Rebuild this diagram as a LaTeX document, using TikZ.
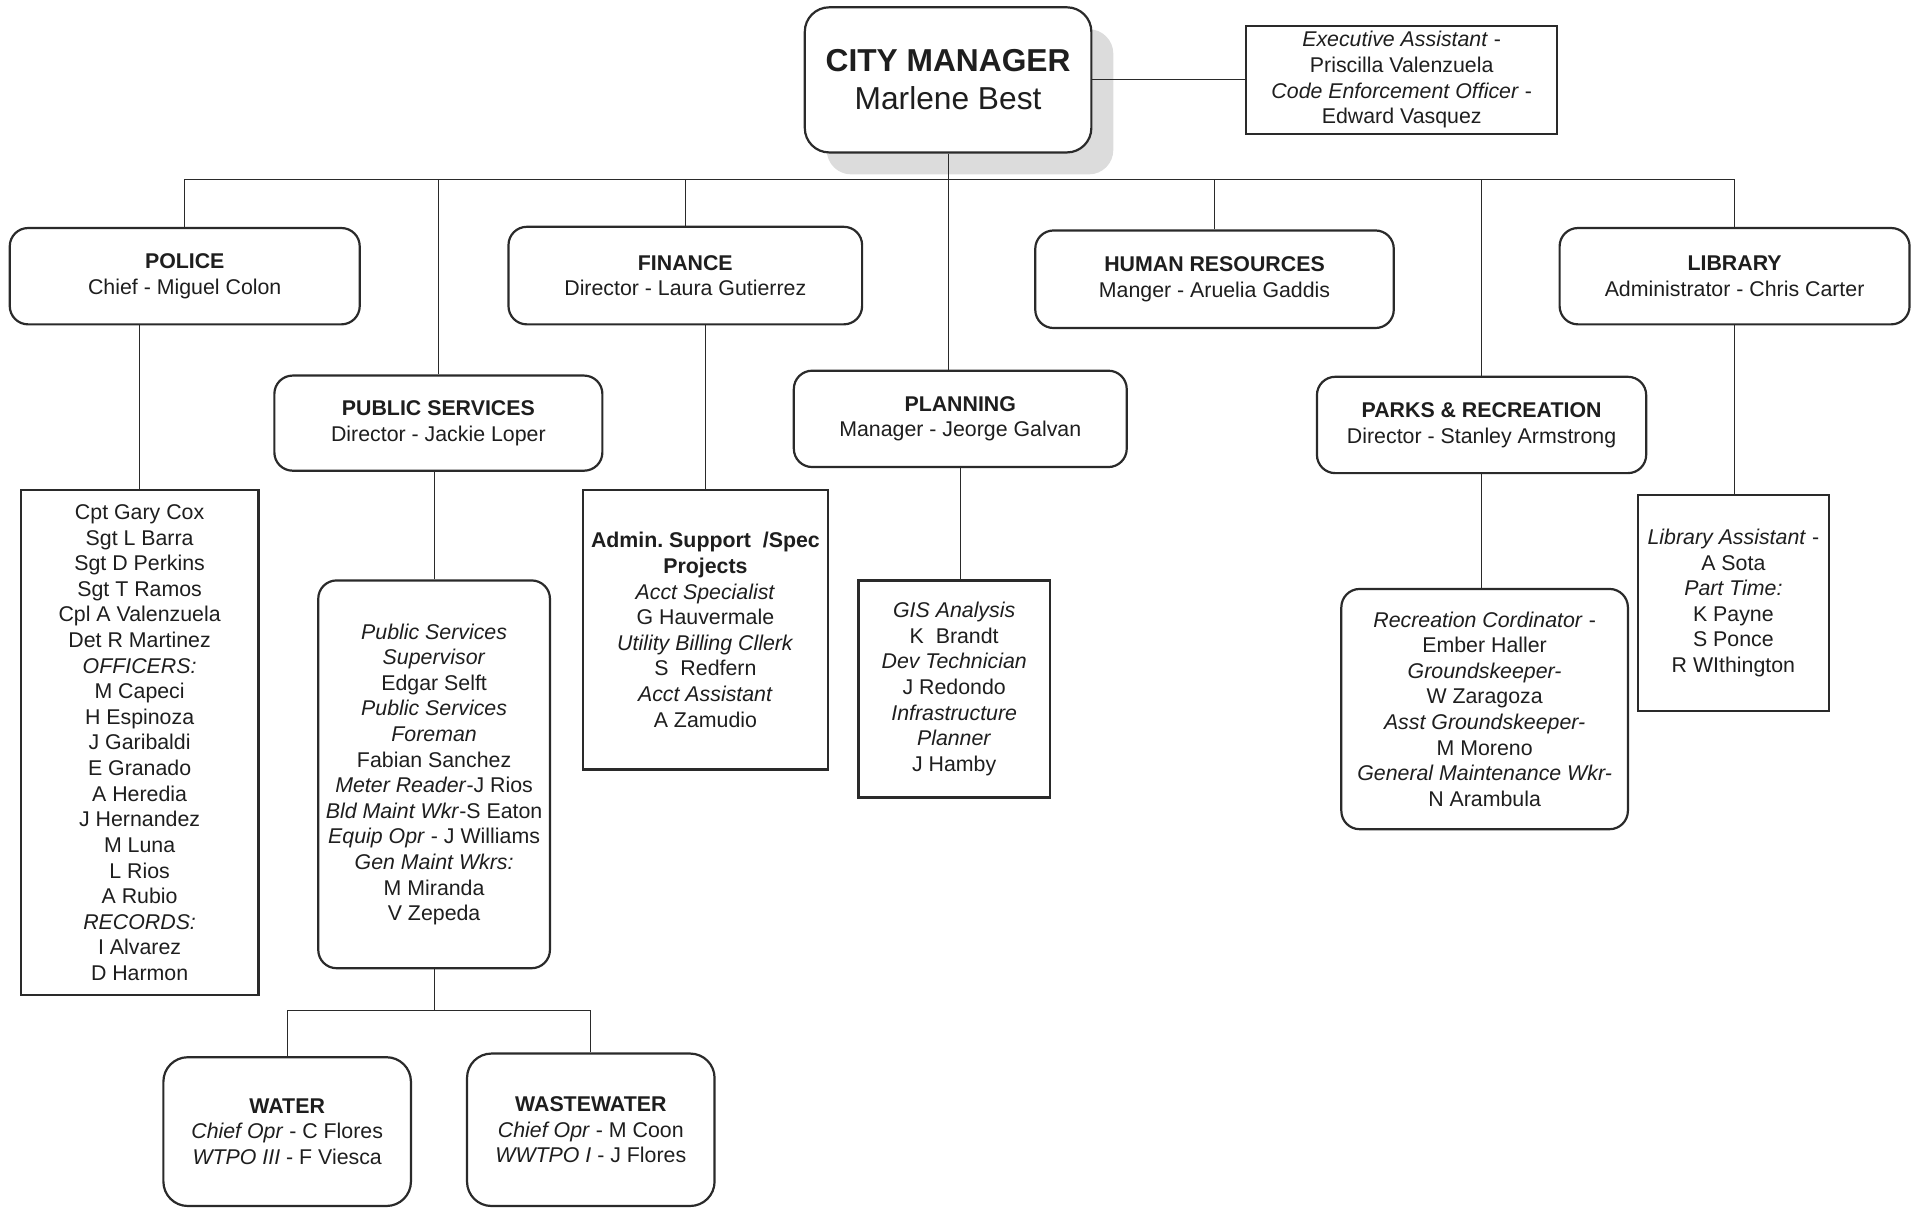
\documentclass[tikz,border=0pt]{standalone}
\usepackage{fontspec}
\setmainfont{Liberation Sans}
\usetikzlibrary{shadows}
\definecolor{ink}{HTML}{1E1E1E}
\definecolor{edge}{HTML}{2A2A2A}
\definecolor{shade}{HTML}{DCDCDC}

\begin{document}
\begin{tikzpicture}[x=1pt,y=-1pt,
  txt/.style={font=\fontsize{17.5}{21}\selectfont, align=center, text=ink, inner sep=0pt},
  sbox/.style={txt, draw=edge, line width=1.8pt, fill=white},
  rbox/.style={sbox, rounded corners=15pt},
  link/.style={draw=edge, line width=0.9pt},
]
\useasboundingbox (0,0) rectangle (1568,991);

% ---------- top level ----------
\node[rbox, rounded corners=20pt, minimum width=235pt, minimum height=119pt,
      font=\fontsize{26}{31}\selectfont,
      drop shadow={shadow xshift=18pt, shadow yshift=-18pt, fill=shade, opacity=1}]
      (cm) at (777.5,65.5) {\textbf{CITY MANAGER}\\Marlene Best};

\node[sbox, minimum width=255pt, minimum height=89pt] (exec) at (1149.5,65.5)
  {\textit{Executive Assistant} -\\Priscilla Valenzuela\\\textit{Code Enforcement Officer} -\\Edward Vasquez};

% ---------- departments ----------
\node[rbox, minimum width=287pt, minimum height=79pt] (police) at (151.5,226.5)
  {\textbf{POLICE}\\Chief - Miguel Colon};
\node[rbox, minimum width=290pt, minimum height=80pt] (finance) at (562,226)
  {\textbf{FINANCE}\\Director - Laura Gutierrez};
\node[rbox, minimum width=294pt, minimum height=80pt] (hr) at (996,229)
  {\textbf{HUMAN RESOURCES}\\Manger - Aruelia Gaddis};
\node[rbox, minimum width=287pt, minimum height=79pt] (library) at (1422.5,226.5)
  {\textbf{LIBRARY}\\Administrator - Chris Carter};
\node[rbox, minimum width=269pt, minimum height=78pt] (ps) at (359.5,347)
  {\textbf{PUBLIC SERVICES}\\Director - Jackie Loper};
\node[rbox, minimum width=273pt, minimum height=79pt] (planning) at (787.5,343.5)
  {\textbf{PLANNING}\\Manager - Jeorge Galvan};
\node[rbox, minimum width=270pt, minimum height=79pt] (parks) at (1215,348.5)
  {\textbf{PARKS \& RECREATION}\\Director - Stanley Armstrong};

% ---------- staff lists ----------
\node[sbox, minimum width=195pt, minimum height=414pt] (policelist) at (114.5,609)
  {Cpt Gary Cox\\Sgt L Barra\\Sgt D Perkins\\Sgt T Ramos\\Cpl A Valenzuela\\Det R Martinez\\
   \textit{OFFICERS:}\\M Capeci\\H Espinoza\\J Garibaldi\\E Granado\\A Heredia\\J Hernandez\\
   M Luna\\L Rios\\A Rubio\\\textit{RECORDS:}\\I Alvarez\\D Harmon};

\node[rbox, minimum width=190pt, minimum height=318pt] (pslist) at (356,635)
  {\textit{Public Services}\\\textit{Supervisor}\\Edgar Selft\\\textit{Public Services}\\
   \textit{Foreman}\\Fabian Sanchez\\\textit{Meter Reader}-J Rios\\\textit{Bld Maint Wkr}-S Eaton\\
   \textit{Equip Opr} - J Williams\\\textit{Gen Maint Wkrs:}\\M Miranda\\V Zepeda};

\node[sbox, minimum width=201pt, minimum height=229pt] (finlist) at (578.5,516.5)
  {\textbf{Admin.\ Support\ \ /Spec}\\\textbf{Projects}\\\textit{Acct Specialist}\\G Hauvermale\\
   \textit{Utility Billing Cllerk}\\S\ \ Redfern\\\textit{Acct Assistant}\\A Zamudio};

\node[sbox, minimum width=157pt, minimum height=178pt] (planlist) at (782.5,565)
  {\textit{GIS Analysis}\\K\ \ Brandt\\\textit{Dev Technician}\\J Redondo\\
   \textit{Infrastructure}\\\textit{Planner}\\J Hamby};

\node[rbox, minimum width=235pt, minimum height=197pt] (parkslist) at (1217.5,581.5)
  {\textit{Recreation Cordinator} -\\Ember Haller\\\textit{Groundskeeper-}\\W Zaragoza\\
   \textit{Asst Groundskeeper-}\\M Moreno\\\textit{General Maintenance Wkr-}\\N Arambula};

\node[sbox, minimum width=157pt, minimum height=177pt] (liblist) at (1421.5,494.5)
  {\textit{Library Assistant} -\\A Sota\\\textit{Part Time:}\\K Payne\\S Ponce\\R WIthington};

% ---------- utilities ----------
\node[rbox, rounded corners=20pt, minimum width=203pt, minimum height=122pt] (water) at (235.5,928)
  {\textbf{WATER}\\\textit{Chief Opr} - C Flores\\\textit{WTPO III} - F Viesca};
\node[rbox, rounded corners=20pt, minimum width=203pt, minimum height=125pt] (waste) at (484.5,926.5)
  {\textbf{WASTEWATER}\\\textit{Chief Opr} - M Coon\\\textit{WWTPO I} - J Flores};

% ---------- reporting lines ----------
\coordinate (busL) at (151.5,147);
\coordinate (wbus) at (356,829);

\draw[link] (cm.east) -- (exec.west);
\draw[link] (cm.south) -- (cm.south |- planning.north);
\draw[link] (police.north |- busL) -- (library.north |- busL);
\draw[link] (police.north) -- (police.north |- busL);
\draw[link] (ps.north) -- (ps.north |- busL);
\draw[link] (finance.north) -- (finance.north |- busL);
\draw[link] (hr.north) -- (hr.north |- busL);
\draw[link] (parks.north) -- (parks.north |- busL);
\draw[link] (library.north) -- (library.north |- busL);

\draw[link] (policelist.north) -- (policelist.north |- police.south);
\draw[link] (pslist.north) -- (pslist.north |- ps.south);
\draw[link] (finlist.north) -- (finlist.north |- finance.south);
\draw[link] (planning.south) -- (planning.south |- planlist.north);
\draw[link] (parks.south) -- (parks.south |- parkslist.north);
\draw[link] (library.south) -- (library.south |- liblist.north);

\draw[link] (pslist.south) -- (pslist.south |- wbus);
\draw[link] (water.north) |- (wbus) -| (waste.north);
\end{tikzpicture}
\end{document}
